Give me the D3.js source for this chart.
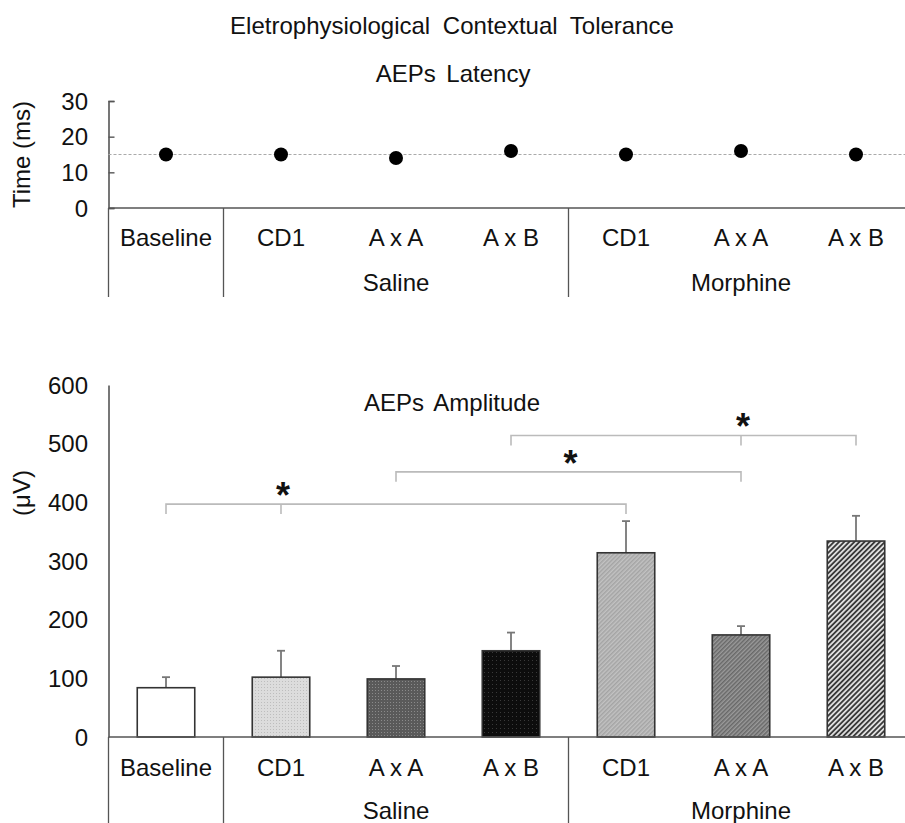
<!DOCTYPE html>
<html>
<head>
<meta charset="utf-8">
<script src="https://cdn.jsdelivr.net/npm/d3@7"></script>
<style>
  html, body { margin: 0; padding: 0; background: #fff; }
  svg { display: block; }
  text { font-family: "Liberation Sans", Arial, sans-serif; fill: #111; }
</style>
</head>
<body>
<svg id="chart" width="905" height="823"></svg>
<script>
// Conditions (unique keys), their printed labels and the group each belongs to
const conditions = ["Baseline", "Saline CD1", "Saline AxA", "Saline AxB", "Morphine CD1", "Morphine AxA", "Morphine AxB"];
const conditionLabels = ["Baseline", "CD1", "A x A", "A x B", "CD1", "A x A", "A x B"];
const groups = [
  { name: "", from: "Baseline", to: "Baseline" },
  { name: "Saline", from: "Saline CD1", to: "Saline AxB" },
  { name: "Morphine", from: "Morphine CD1", to: "Morphine AxB" }
];

// AEP latency (ms)
const latency = [15, 15, 14, 16, 15, 16, 15];
const latencyReference = 15;
const latencyTicks = [0, 10, 20, 30];

// AEP amplitude (µV): mean and upper SEM whisker
const amplitude = [84, 102, 99, 147, 314, 174, 334];
const amplitudeErr = [18, 45, 22, 31, 54, 15, 43];
const amplitudeTicks = [0, 100, 200, 300, 400, 500, 600];

// Significance brackets: ends, optional middle tick, line level (µV)
const brackets = [
  { from: "Baseline", to: "Morphine CD1", mid: "Saline CD1", level: 397, star: "Saline CD1" },
  { from: "Saline AxA", to: "Morphine AxA", mid: null, level: 452, star: null },
  { from: "Saline AxB", to: "Morphine AxB", mid: "Morphine AxA", level: 514, star: "Morphine AxA" }
];

const svg = d3.select("#chart");
const font = 24;

// ---------- fill patterns ----------
const defs = svg.append("defs");
function dotPattern(id, bg, fg, size, dot) {
  const p = defs.append("pattern").attr("id", id).attr("patternUnits", "userSpaceOnUse")
    .attr("width", size).attr("height", size);
  p.append("rect").attr("width", size).attr("height", size).attr("fill", bg);
  p.append("rect").attr("width", dot).attr("height", dot).attr("fill", fg);
  return `url(#${id})`;
}
function stripePattern(id, bg, fg, size, w) {
  const p = defs.append("pattern").attr("id", id).attr("patternUnits", "userSpaceOnUse")
    .attr("width", size).attr("height", size).attr("patternTransform", "rotate(45)");
  p.append("rect").attr("width", size).attr("height", size).attr("fill", bg);
  p.append("rect").attr("width", w).attr("height", size).attr("fill", fg);
  return `url(#${id})`;
}
const fills = [
  "#ffffff",
  dotPattern("p1", "#dcdcdc", "#bdbdbd", 3, 1),
  dotPattern("p2", "#5a5a5a", "#8a8a8a", 3, 1),
  dotPattern("p3", "#0d0d0d", "#3a3a3a", 4, 1),
  stripePattern("p4", "#c2c2c2", "#a4a4a4", 3, 1.5),
  stripePattern("p5", "#9a9a9a", "#686868", 3, 1.5),
  stripePattern("p6", "#dedede", "#3a3a3a", 3.6, 1.8)
];

// ---------- shared x layout ----------
const xLeft = 108.5, xRight = 913.5;
const xBand = d3.scaleBand().domain(conditions).range([xLeft, xRight]).paddingInner(0.5).paddingOuter(0.25);
const step = xBand.step();
const xCenter = c => xBand(c) + xBand.bandwidth() / 2;
const cellLeft = c => xLeft + conditions.indexOf(c) * step;

const axisColor = "#555";

function categoryAxis(y0, yLab, yGroup, yEnd) {
  const g = svg.append("g");
  g.append("line").attr("x1", xLeft).attr("x2", 905).attr("y1", y0).attr("y2", y0)
    .attr("stroke", axisColor).attr("stroke-width", 1.6);
  // group separators
  const seps = [cellLeft("Baseline"), cellLeft("Saline CD1"), cellLeft("Morphine CD1")];
  g.selectAll(".sep").data(seps).join("line")
    .attr("x1", d => d).attr("x2", d => d).attr("y1", y0).attr("y2", yEnd)
    .attr("stroke", axisColor).attr("stroke-width", 1.3);
  g.selectAll(".cl").data(conditions).join("text")
    .attr("x", d => xCenter(d)).attr("y", yLab).attr("text-anchor", "middle")
    .attr("dominant-baseline", "central").attr("font-size", font)
    .text((d, i) => conditionLabels[i]);
  g.selectAll(".gl").data(groups.filter(d => d.name)).join("text")
    .attr("x", d => (cellLeft(d.from) + cellLeft(d.to) + step) / 2).attr("y", yGroup)
    .attr("text-anchor", "middle").attr("dominant-baseline", "central").attr("font-size", font)
    .text(d => d.name);
}

// ---------- titles ----------
svg.append("text").attr("x", 452).attr("y", 25).attr("text-anchor", "middle")
  .attr("dominant-baseline", "central").attr("font-size", font).attr("word-spacing", 6)
  .text("Eletrophysiological Contextual Tolerance");
svg.append("text").attr("x", 453).attr("y", 73).attr("text-anchor", "middle")
  .attr("dominant-baseline", "central").attr("font-size", font).attr("word-spacing", 4)
  .text("AEPs Latency");
svg.append("text").attr("x", 452).attr("y", 402).attr("text-anchor", "middle")
  .attr("dominant-baseline", "central").attr("font-size", font).attr("word-spacing", 4)
  .text("AEPs Amplitude");

// ---------- latency panel ----------
const yLat = d3.scaleLinear().domain([0, 30]).range([208, 101]);
const latAxis = svg.append("g").attr("transform", `translate(${xLeft},0)`)
  .call(d3.axisRight(yLat).tickValues(latencyTicks).tickSize(6).tickFormat(""));
latAxis.select(".domain").attr("stroke", axisColor).attr("stroke-width", 1.6);
latAxis.selectAll(".tick line").attr("stroke", axisColor).attr("stroke-width", 1.4);
svg.selectAll(".latTick").data(latencyTicks).join("text")
  .attr("x", 88).attr("y", d => yLat(d)).attr("text-anchor", "end")
  .attr("dominant-baseline", "central").attr("font-size", font).text(d => d);
svg.append("text").attr("transform", `translate(21,${yLat(15)}) rotate(-90)`)
  .attr("text-anchor", "middle").attr("dominant-baseline", "central").attr("font-size", font)
  .text("Time (ms)");

categoryAxis(yLat(0), 237, 282, 297);

svg.append("line").attr("x1", xLeft).attr("x2", 905)
  .attr("y1", yLat(latencyReference)).attr("y2", yLat(latencyReference))
  .attr("stroke", "#aaa").attr("stroke-width", 1.2).attr("stroke-dasharray", "3,2");

svg.selectAll(".dot").data(conditions).join("circle")
  .attr("cx", d => xCenter(d)).attr("cy", (d, i) => yLat(latency[i]))
  .attr("r", 7).attr("fill", "#000");

// ---------- amplitude panel ----------
const yAmp = d3.scaleLinear().domain([0, 600]).range([737, 385]);
const ampAxis = svg.append("g").attr("transform", `translate(${xLeft},0)`)
  .call(d3.axisLeft(yAmp).tickValues(amplitudeTicks).tickSize(0).tickFormat(""));
ampAxis.select(".domain").attr("stroke", axisColor).attr("stroke-width", 1.6);
svg.selectAll(".ampTick").data(amplitudeTicks).join("text")
  .attr("x", 88).attr("y", d => yAmp(d)).attr("text-anchor", "end")
  .attr("dominant-baseline", "central").attr("font-size", font).text(d => d);
svg.append("text").attr("transform", `translate(21,493) rotate(-90)`)
  .attr("text-anchor", "middle").attr("dominant-baseline", "central").attr("font-size", font)
  .text("(μV)");

// error whiskers (upper only)
const errG = svg.append("g").attr("stroke", "#777").attr("stroke-width", 1.8);
errG.selectAll(".stem").data(conditions).join("line")
  .attr("x1", d => xCenter(d)).attr("x2", d => xCenter(d))
  .attr("y1", (d, i) => yAmp(amplitude[i])).attr("y2", (d, i) => yAmp(amplitude[i] + amplitudeErr[i]));
errG.selectAll(".cap").data(conditions).join("line")
  .attr("x1", d => xCenter(d) - 4).attr("x2", d => xCenter(d) + 4)
  .attr("y1", (d, i) => yAmp(amplitude[i] + amplitudeErr[i]))
  .attr("y2", (d, i) => yAmp(amplitude[i] + amplitudeErr[i]));

svg.selectAll(".bar").data(conditions).join("rect")
  .attr("x", d => xBand(d)).attr("width", xBand.bandwidth())
  .attr("y", (d, i) => yAmp(amplitude[i])).attr("height", (d, i) => yAmp(0) - yAmp(amplitude[i]))
  .attr("fill", (d, i) => fills[i]).attr("stroke", "#333").attr("stroke-width", 1.6);

categoryAxis(yAmp(0), 767, 810, 823);

// significance brackets
const brG = svg.append("g").attr("stroke", "#bbb").attr("stroke-width", 1.6).attr("fill", "none");
const drop = 10;
brackets.forEach(b => {
  const y = yAmp(b.level);
  const x1 = xCenter(b.from), x2 = xCenter(b.to);
  brG.append("path").attr("d", `M${x1},${y + drop}V${y}H${x2}V${y + drop}`);
  if (b.mid) brG.append("line").attr("x1", xCenter(b.mid)).attr("x2", xCenter(b.mid))
    .attr("y1", y).attr("y2", y + drop);
  const sx = b.star ? xCenter(b.star) + 2 : (x1 + x2) / 2 + 2;
  svg.append("text").attr("x", sx).attr("y", y + 4).attr("text-anchor", "middle")
    .attr("font-size", 36).attr("font-weight", "bold").text("*");
});
</script>
</body>
</html>
